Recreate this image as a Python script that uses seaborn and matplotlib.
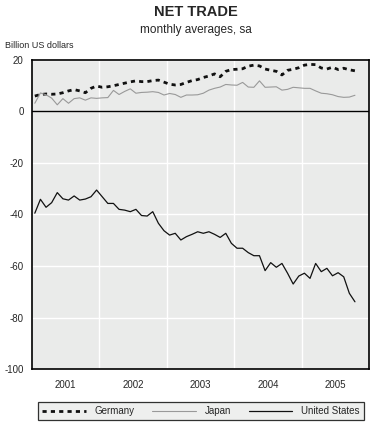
import matplotlib
matplotlib.use("Agg")
import matplotlib.pyplot as plt
import numpy as np
import pandas as pd
import seaborn as sns

# monthly data, Jan 2001 - Oct 2005 (billion US dollars)
germany = [6.0, 6.6, 6.8, 6.7, 6.8, 7.3, 8.0, 8.5, 8.0, 7.3,
           9.0, 9.9, 9.4, 9.6, 10.0, 10.5, 11.0, 11.5, 11.9, 11.6,
           11.6, 12.0, 12.2, 11.4, 10.6, 10.3, 10.5, 11.3, 12.0, 12.4,
           13.2, 13.8, 14.6, 13.5, 15.6, 16.3, 16.4, 16.6, 17.6, 18.0,
           17.7, 16.5, 16.0, 15.6, 14.2, 16.0, 16.4, 17.0, 18.0, 18.3,
           18.2, 16.9, 16.5, 17.2, 16.3, 16.8, 16.2, 15.8]
japan = [3.2, 7.2, 6.5, 5.2, 2.6, 5.0, 3.2, 5.0, 5.3, 4.4,
         5.3, 5.1, 5.3, 5.4, 8.2, 6.6, 7.8, 8.8, 7.1, 7.4,
         7.5, 7.7, 7.4, 6.4, 7.0, 6.6, 5.5, 6.4, 6.4, 6.5,
         7.1, 8.3, 9.0, 9.5, 10.5, 10.3, 10.2, 11.3, 9.5, 9.4,
         11.9, 9.4, 9.5, 9.6, 8.3, 8.6, 9.4, 9.2, 9.0, 9.0,
         8.0, 7.1, 6.9, 6.5, 5.8, 5.5, 5.6, 6.3]
united_states = [-39.5, -34.1, -37.2, -35.4, -31.5, -33.9, -34.4, -32.8, -34.4, -34.0,
                 -33.1, -30.5, -33.1, -35.7, -35.7, -38.0, -38.3, -38.9, -38.0, -40.4,
                 -40.6, -38.9, -43.4, -46.3, -48.0, -47.3, -49.9, -48.6, -47.7, -46.7,
                 -47.3, -46.7, -47.7, -48.9, -47.3, -51.2, -53.1, -53.1, -54.8, -56.0,
                 -56.0, -61.8, -58.7, -60.5, -59.0, -62.8, -67.0, -63.9, -62.8, -64.8,
                 -59.0, -62.2, -60.9, -63.8, -62.6, -64.2, -70.6, -73.9]
years = [2001, 2002, 2003, 2004, 2005]
yticks = [20, 0, -20, -40, -60, -80, -100]

n = len(united_states)
t = 2001 + (np.arange(n) + 0.5) / 12
df = pd.DataFrame({
    "t": np.concatenate([t, t, t]),
    "value": germany + japan + united_states,
    "country": ["Germany"] * n + ["Japan"] * n + ["United States"] * n,
})

sns.set_style("white", {"axes.facecolor": "#eaebea"})
plt.rcParams["font.family"] = ["Liberation Sans", "DejaVu Sans"]

fig = plt.figure(figsize=(3.91, 4.29), dpi=100)
ax = fig.add_axes([32 / 391, 1 - 369 / 429, 337 / 391, 309 / 429])

palette = {"Germany": "#111111", "Japan": "#999999", "United States": "#111111"}
sizes = {"Germany": 2.0, "Japan": 0.8, "United States": 0.9}
for name, grp in df.groupby("country"):
    sns.lineplot(data=grp, x="t", y="value", ax=ax, color=palette[name],
                 linewidth=sizes[name], label=name,
                 linestyle=(0, (1.5, 1.5)) if name == "Germany" else "-")

ax.set_xlim(2001, 2006)
ax.set_ylim(-100, 20)
ax.set_xticks([2002, 2003, 2004, 2005])
ax.set_xticklabels([])
ax.set_xticks([y + 0.5 for y in years], minor=True)
ax.set_xticklabels([str(y) for y in years], minor=True, fontsize=7)
ax.set_yticks(yticks)
ax.set_yticklabels([str(v) for v in yticks], fontsize=7)
ax.tick_params(axis="both", which="both", length=0, pad=6)
ax.tick_params(axis="x", which="both", pad=8)
ax.grid(True, which="major", color="white", linewidth=1.0)
ax.axhline(0, color="black", linewidth=1.0)
ax.set_xlabel("")
ax.set_ylabel("")
for s in ax.spines.values():
    s.set_color("black")
    s.set_linewidth(1.2)

ax.legend_.remove()
handles, labels = ax.get_legend_handles_labels()
leg = fig.legend(handles, labels, loc="center", bbox_to_anchor=(201 / 391, 1 - 411 / 429),
                 ncol=3, fontsize=7, frameon=True, fancybox=False, handlelength=4.5,
                 columnspacing=1.8, handletextpad=0.9, borderpad=0.4)
leg.get_frame().set_edgecolor("black")
leg.get_frame().set_linewidth(0.9)

fig.text(196 / 391, 1 - 12 / 429, "NET TRADE", ha="center", va="center",
         fontsize=10.5, fontweight="bold")
fig.text(196 / 391, 1 - 30 / 429, "monthly averages, sa", ha="center", va="center",
         fontsize=8.5)
fig.text(5 / 391, 1 - 46 / 429, "Billion US dollars", ha="left", va="center", fontsize=6.5)

fig.savefig("out.png", dpi=100)
